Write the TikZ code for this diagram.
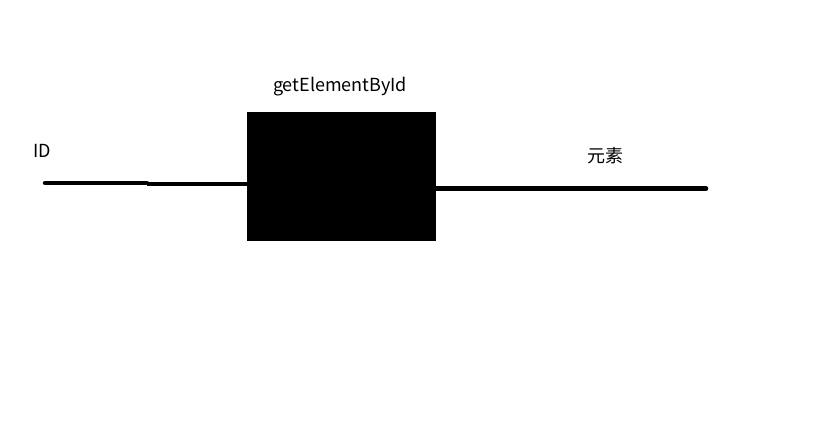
\documentclass[tikz,border=0pt]{standalone}
\usepackage{fontspec}
\setmainfont{Noto Sans CJK SC}
\usetikzlibrary{positioning}
\tikzset{
  wire/.style={line width=4.5pt,line cap=round},
  lbl/.style={inner sep=0pt,font=\fontsize{18}{21}\selectfont},
}
\begin{document}
\begin{tikzpicture}[x=1pt,y=-1pt]
		\useasboundingbox (0,0) rectangle (833,421);
		% the function box
		\node[fill=black,minimum width=189pt,minimum height=129pt,inner sep=0pt] (func) at (341.5,176.5) {};
		\node[lbl] (name) at (340,87) {getElementById};
		\node[lbl] (idlbl) at (42,151) {ID};
		\node[lbl] (ellbl) at (605,156) {元素};
		% input and output lines
		\coordinate (idin) at (45,183);
		\coordinate (kink) at (147,183);
		\coordinate (elout) at (706,188.5);
		\draw[wire] (idin) -- (kink);
		\draw[line width=4.5pt] ([yshift=-1pt]kink) -- (func.west |- 0,184);
		\draw[wire] (func.east |- elout) -- (elout);
\end{tikzpicture}
\end{document}
